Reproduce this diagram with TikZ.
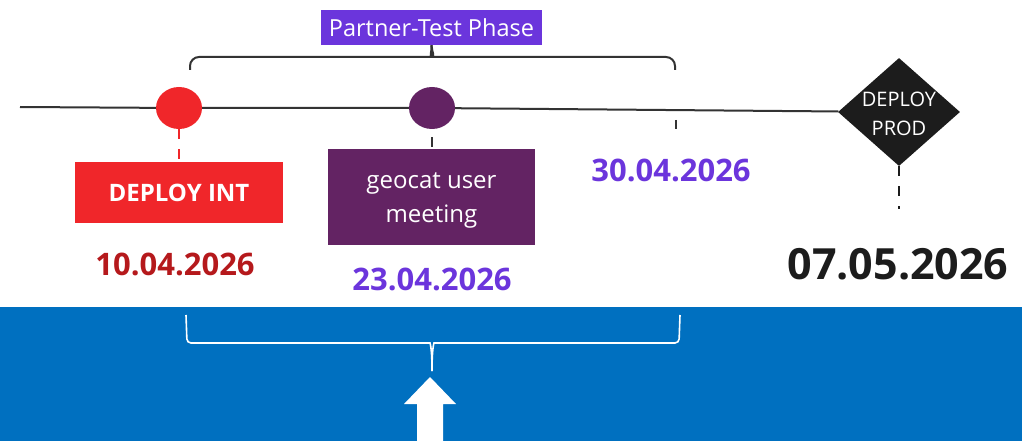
\documentclass[tikz,border=0pt]{standalone}
\usepackage{fontspec}
\setmainfont{Open Sans}
\usetikzlibrary{shapes.geometric}
\definecolor{bandblue}{HTML}{0070C0}
\definecolor{intred}{HTML}{F0262A}
\definecolor{datered}{HTML}{B5191C}
\definecolor{geopurple}{HTML}{632363}
\definecolor{phasepurple}{HTML}{6B35DC}
\definecolor{prodblack}{HTML}{1C1C1C}
\definecolor{linegray}{HTML}{333333}
\tikzset{
  milestone/.style={ellipse, inner sep=0pt, minimum width=46pt, minimum height=42pt},
  boxlabel/.style={inner sep=0pt, text=white, align=center},
  datelabel/.style={inner sep=0pt, font=\bfseries\fontsize{31}{36}\selectfont},
  timeline/.style={linegray, line width=2pt},
  bracket/.style={line width=2pt, rounded corners=9pt},
  dashlink/.style={line width=2pt, dash pattern=on 10pt off 10pt},
}
\begin{document}
\begin{tikzpicture}[x=1pt, y=-1pt]
\useasboundingbox (0,0) rectangle (1022,441);
\fill[bandblue] (0,307) rectangle (1022,441);

% timeline and milestones
\coordinate (start) at (20,107);
\node[milestone, fill=intred] (int) at (179,108) {};
\node[milestone, fill=geopurple] (geo) at (432,108) {};
\node[diamond, fill=prodblack, inner sep=0pt, minimum width=122pt, minimum height=108pt] (prod) at (899,112) {};
\node[boxlabel, font=\fontsize{20}{29}\selectfont] (prodtext) at (899,114) {DEPLOY\\PROD};
\draw[timeline] (start) -- (int) -- (geo) -- (prod);

% DEPLOY INT
\node[fill=intred, boxlabel, minimum width=208pt, minimum height=61pt, font=\bfseries\fontsize{24}{28}\selectfont] (intbox) at (179,192.5) {DEPLOY INT};
\draw[dashlink, intred] (int) -- (intbox);
\node[datelabel, text=datered] (date1) at (175,264) {10.04.2026};

% geocat user meeting
\node[fill=geopurple, minimum width=207pt, minimum height=96pt] (geobox) at (431.5,197) {};
\node[boxlabel, font=\fontsize{24}{34}\selectfont] (geotext) at (431.5,200) {geocat user\\meeting};
\coordinate (geotick1) at (432,137);
\coordinate (geotick2) at (432,147);
\draw[timeline, line width=2.5pt] (geotick1) -- (geotick2);
\node[datelabel, text=phasepurple] (date2) at (432,279) {23.04.2026};

% 30.04.2026
\coordinate (endtick1) at (676,120);
\coordinate (endtick2) at (676,129);
\draw[timeline, line width=2.5pt] (endtick1) -- (endtick2);
\node[datelabel, text=phasepurple] (date3) at (671,170.5) {30.04.2026};

% DEPLOY PROD
\coordinate (prodend) at (899,209);
\draw[dashlink, prodblack] (prod) -- (prodend);
\node[inner sep=0pt, font=\bfseries\fontsize{43}{48}\selectfont, text=prodblack] (date4) at (898,264) {07.05.2026};

% Partner-Test Phase bracket
\node[fill=phasepurple, boxlabel, minimum width=221pt, minimum height=35pt, font=\fontsize{23.5}{27}\selectfont] (phase) at (431.5,27.5) {Partner-Test Phase};
\coordinate (tl) at (190,70);
\coordinate (tr) at (675,70);
\draw[bracket, linegray] (tl) |- (423,57) .. controls (429,57) and (432,52) .. (phase.south);
\draw[bracket, linegray] (tr) |- (441,57) .. controls (435,57) and (432,52) .. (phase.south);

% bottom white bracket and arrow
\coordinate (bl) at (186,315);
\coordinate (br) at (680,315);
\coordinate (btip) at (432,371);
\draw[white, line width=1.6pt, rounded corners=4pt] (bl) -- (187,343) -- (426,343) .. controls (430,343) and (432,348) .. (btip);
\draw[white, line width=1.6pt, rounded corners=4pt] (br) -- (679,343) -- (438,343) .. controls (434,343) and (432,348) .. (btip);
\fill[white] (417,442) -- (417,404) -- (404,404) -- (430,377) -- (456,404) -- (443,404) -- (443,442) -- cycle;
\end{tikzpicture}
\end{document}
